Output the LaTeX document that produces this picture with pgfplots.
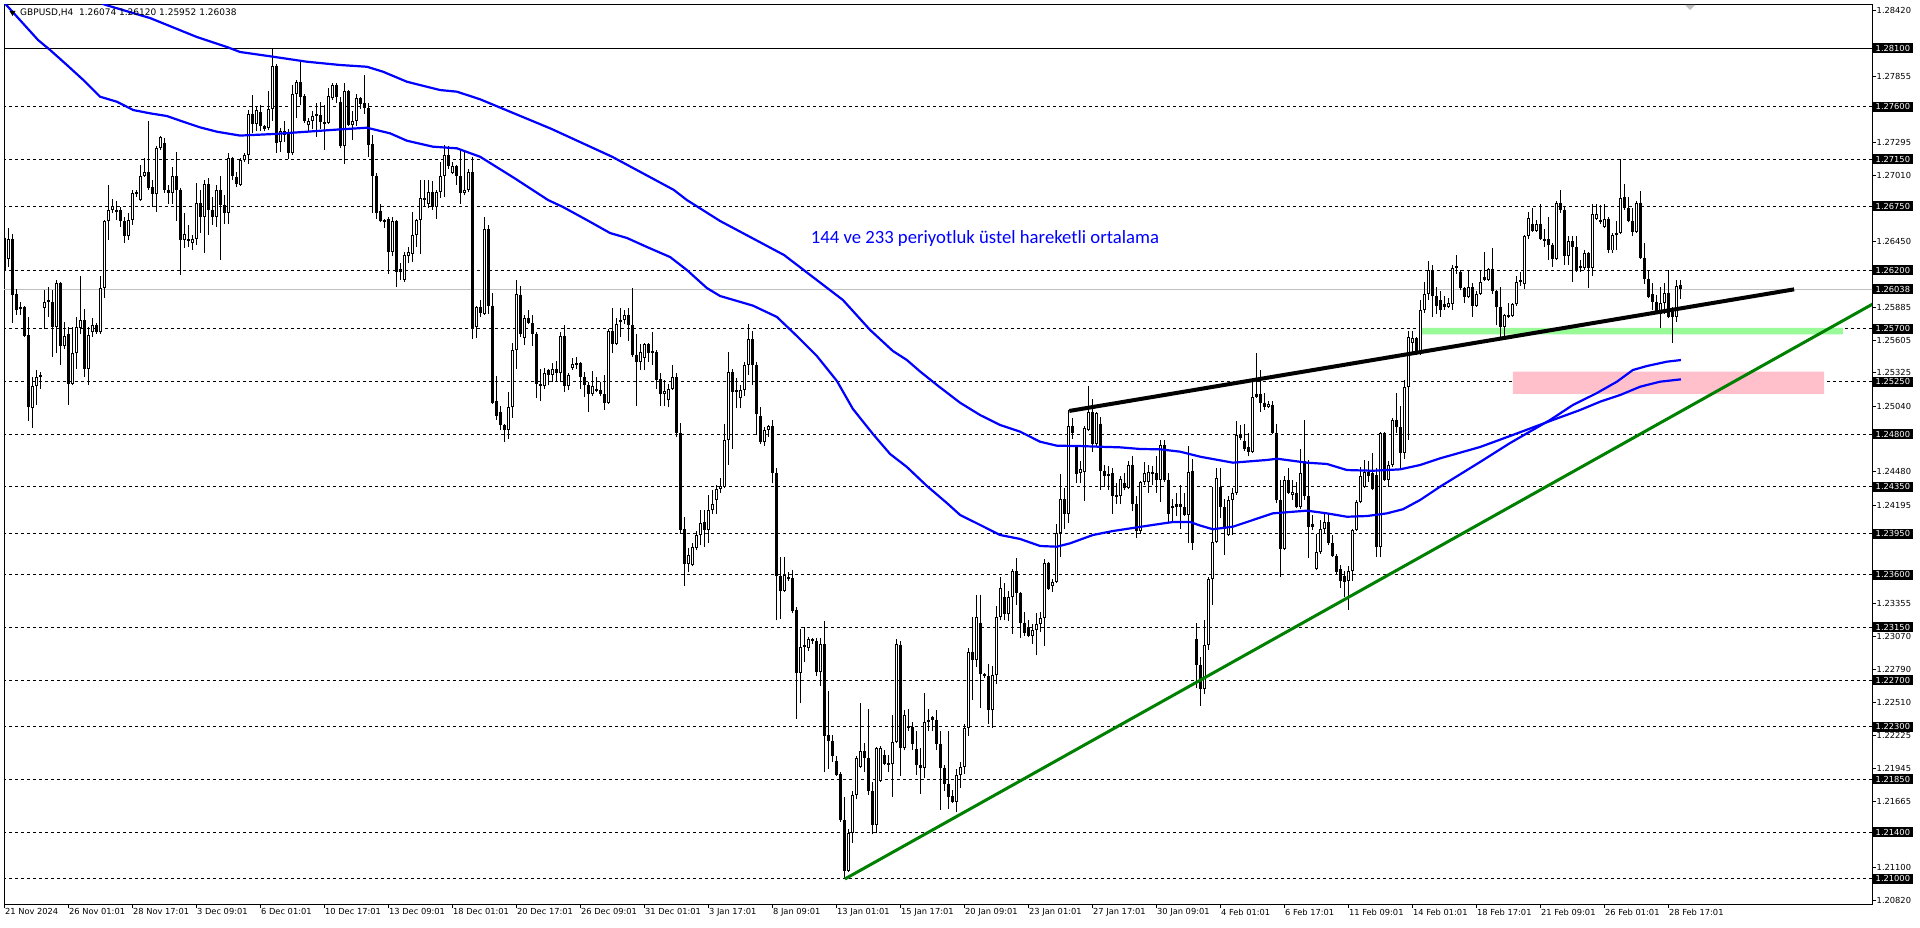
\documentclass[border=0pt]{standalone}
\usepackage{pgfplots}
\pgfplotsset{compat=1.18}
\usepackage{pgfplotstable}
\usepackage{fontspec}
\setmainfont{DejaVu Sans}
\newfontfamily\calibri{Carlito}
\definecolor{mablue}{RGB}{0,0,255}
\definecolor{trgreen}{RGB}{0,128,0}
\definecolor{bandgreen}{RGB}{152,251,152}
\definecolor{zonepink}{RGB}{255,192,203}
\definecolor{curgrey}{RGB}{192,192,192}
\newcommand{\uifont}{\fontsize{8.3}{10}\selectfont}

\pgfplotstableread{
i o h l c
0 2648 2656 2617 2620
1 2630 2656 2623 2647
2 2647 2651 2575 2599
3 2600 2604 2582 2586
4 2589 2593 2582 2587
5 2589 2590 2563 2564
6 2565 2580 2491 2503
7 2502 2529 2485 2521
8 2521 2535 2505 2529
9 2529 2533 2519 2531
10 2588 2603 2570 2593
11 2593 2606 2580 2595
12 2593 2603 2546 2572
13 2572 2612 2549 2609
14 2609 2610 2539 2555
15 2555 2576 2553 2564
16 2566 2572 2505 2523
17 2523 2572 2522 2549
18 2549 2580 2536 2572
19 2571 2615 2566 2578
20 2578 2587 2529 2536
21 2536 2572 2522 2565
22 2567 2579 2563 2573
23 2573 2575 2566 2567
24 2567 2615 2566 2605
25 2605 2663 2596 2662
26 2662 2693 2646 2672
27 2672 2681 2669 2675
28 2672 2679 2663 2670
29 2672 2674 2657 2662
30 2662 2666 2643 2649
31 2649 2669 2646 2663
32 2663 2689 2659 2686
33 2685 2689 2683 2687
34 2680 2710 2679 2701
35 2701 2716 2700 2704
36 2704 2748 2689 2690
37 2691 2697 2674 2685
38 2685 2726 2670 2725
39 2725 2735 2723 2734
40 2729 2733 2686 2689
41 2689 2693 2677 2686
42 2686 2708 2677 2701
43 2701 2721 2662 2689
44 2689 2690 2616 2646
45 2646 2669 2639 2651
46 2645 2659 2640 2647
47 2643 2650 2637 2647
48 2647 2695 2642 2678
49 2678 2689 2652 2666
50 2666 2697 2635 2694
51 2694 2699 2650 2672
52 2672 2683 2659 2666
53 2666 2693 2657 2689
54 2689 2701 2629 2676
55 2676 2684 2660 2669
56 2669 2720 2660 2716
57 2716 2717 2697 2701
58 2700 2704 2691 2694
59 2693 2716 2692 2714
60 2714 2720 2713 2719
61 2719 2757 2711 2754
62 2754 2770 2737 2745
63 2745 2760 2739 2757
64 2755 2761 2739 2743
65 2743 2744 2739 2741
66 2742 2773 2740 2758
67 2758 2809 2748 2795
68 2795 2796 2720 2729
69 2730 2742 2721 2739
70 2736 2748 2730 2739
71 2738 2741 2715 2720
72 2720 2778 2719 2771
73 2771 2783 2750 2781
74 2781 2798 2761 2768
75 2769 2771 2746 2748
76 2744 2750 2739 2748
77 2748 2756 2741 2752
78 2752 2763 2734 2754
79 2753 2764 2741 2747
80 2747 2761 2723 2745
81 2746 2776 2745 2769
82 2767 2780 2766 2778
83 2778 2780 2763 2768
84 2764 2768 2725 2726
85 2726 2780 2711 2773
86 2773 2774 2743 2744
87 2744 2756 2731 2748
88 2748 2771 2743 2767
89 2767 2768 2758 2762
90 2763 2787 2754 2759
91 2759 2763 2717 2727
92 2728 2736 2669 2701
93 2701 2703 2664 2669
94 2671 2677 2661 2662
95 2663 2664 2656 2661
96 2664 2666 2617 2636
97 2636 2666 2632 2662
98 2662 2663 2606 2619
99 2619 2626 2612 2621
100 2612 2636 2610 2633
101 2632 2640 2626 2636
102 2634 2670 2627 2650
103 2650 2664 2640 2663
104 2663 2697 2634 2682
105 2682 2697 2674 2680
106 2677 2697 2673 2687
107 2687 2696 2672 2674
108 2674 2689 2664 2687
109 2687 2713 2682 2701
110 2701 2727 2683 2719
111 2719 2726 2707 2709
112 2703 2713 2702 2709
113 2709 2710 2693 2701
114 2701 2724 2677 2686
115 2686 2723 2684 2689
116 2689 2707 2687 2704
117 2704 2717 2561 2570
118 2572 2590 2562 2589
119 2589 2595 2580 2584
120 2583 2666 2582 2655
121 2655 2659 2583 2590
122 2590 2601 2506 2507
123 2508 2530 2492 2496
124 2499 2504 2484 2488
125 2488 2489 2473 2484
126 2484 2516 2476 2503
127 2503 2558 2494 2552
128 2552 2612 2536 2600
129 2599 2607 2563 2566
130 2562 2582 2556 2579
131 2579 2586 2574 2575
132 2575 2582 2555 2566
133 2566 2567 2511 2523
134 2523 2536 2508 2521
135 2521 2537 2519 2532
136 2535 2536 2522 2531
137 2531 2541 2525 2536
138 2536 2543 2525 2532
139 2532 2567 2525 2564
140 2564 2573 2516 2521
141 2521 2532 2518 2531
142 2537 2545 2535 2540
143 2539 2546 2536 2541
144 2541 2542 2519 2529
145 2529 2533 2512 2522
146 2522 2525 2499 2514
147 2514 2534 2513 2521
148 2519 2529 2516 2517
149 2518 2525 2513 2514
150 2514 2531 2501 2507
151 2507 2570 2506 2568
152 2568 2588 2549 2557
153 2557 2579 2556 2574
154 2578 2588 2563 2576
155 2578 2586 2574 2582
156 2582 2588 2560 2573
157 2573 2605 2546 2548
158 2548 2566 2504 2542
159 2542 2557 2535 2550
160 2545 2558 2535 2557
161 2557 2558 2542 2549
162 2551 2567 2539 2549
163 2550 2552 2519 2526
164 2527 2532 2504 2514
165 2514 2526 2504 2517
166 2509 2523 2503 2519
167 2519 2539 2518 2529
168 2529 2532 2478 2481
169 2481 2490 2395 2398
170 2399 2409 2350 2369
171 2369 2383 2362 2377
172 2368 2387 2367 2384
173 2383 2397 2381 2394
174 2394 2415 2385 2404
175 2405 2415 2384 2398
176 2398 2428 2387 2415
177 2415 2432 2412 2420
178 2424 2437 2412 2433
179 2433 2443 2430 2436
180 2435 2489 2434 2475
181 2475 2550 2454 2533
182 2533 2536 2467 2516
183 2516 2528 2502 2518
184 2511 2522 2502 2518
185 2518 2542 2513 2539
186 2539 2574 2531 2561
187 2561 2568 2522 2539
188 2539 2542 2479 2497
189 2496 2503 2472 2473
190 2473 2486 2470 2484
191 2484 2488 2478 2487
192 2487 2492 2438 2447
193 2447 2451 2321 2359
194 2359 2375 2322 2346
195 2346 2375 2345 2360
196 2356 2362 2355 2358
197 2357 2364 2327 2329
198 2330 2332 2237 2276
199 2276 2314 2250 2298
200 2298 2315 2285 2300
201 2297 2307 2295 2305
202 2305 2306 2301 2303
203 2303 2306 2273 2277
204 2277 2306 2265 2301
205 2301 2320 2191 2222
206 2223 2261 2194 2218
207 2218 2223 2200 2205
208 2201 2205 2188 2189
209 2190 2191 2149 2150
210 2150 2170 2101 2107
211 2107 2143 2106 2139
212 2139 2175 2131 2172
213 2172 2205 2168 2203
214 2196 2250 2195 2209
215 2209 2216 2191 2203
216 2203 2245 2172 2175
217 2175 2183 2138 2146
218 2146 2213 2139 2212
219 2184 2214 2183 2212
220 2206 2210 2197 2198
221 2199 2206 2191 2197
222 2198 2240 2170 2217
223 2217 2305 2216 2301
224 2300 2303 2188 2212
225 2212 2244 2210 2240
226 2229 2245 2226 2231
227 2230 2234 2210 2215
228 2211 2226 2189 2197
229 2197 2212 2173 2195
230 2195 2259 2186 2234
231 2234 2245 2226 2236
232 2236 2239 2226 2238
233 2236 2244 2210 2215
234 2215 2226 2159 2195
235 2195 2197 2175 2181
236 2181 2226 2160 2170
237 2171 2176 2165 2166
238 2166 2194 2157 2189
239 2189 2200 2178 2196
240 2196 2232 2190 2229
241 2229 2297 2222 2294
242 2294 2324 2253 2287
243 2287 2343 2281 2324
244 2319 2343 2246 2275
245 2275 2276 2272 2273
246 2273 2284 2232 2244
247 2244 2282 2229 2274
248 2274 2333 2267 2324
249 2324 2358 2321 2349
250 2341 2353 2321 2326
251 2326 2346 2320 2341
252 2341 2365 2309 2363
253 2363 2374 2334 2344
254 2344 2345 2306 2319
255 2319 2328 2308 2310
256 2315 2321 2307 2308
257 2308 2318 2301 2313
258 2313 2327 2291 2318
259 2318 2328 2311 2323
260 2323 2373 2299 2370
261 2370 2371 2347 2348
262 2350 2356 2345 2354
263 2354 2403 2353 2396
264 2396 2446 2375 2425
265 2425 2434 2399 2412
266 2412 2501 2404 2487
267 2487 2494 2476 2481
268 2469 2471 2438 2446
269 2447 2457 2438 2450
270 2448 2487 2423 2485
271 2484 2521 2483 2499
272 2499 2510 2465 2472
273 2472 2499 2469 2498
274 2489 2495 2432 2449
275 2449 2454 2435 2444
276 2446 2453 2432 2444
277 2447 2451 2412 2427
278 2428 2438 2420 2426
279 2427 2444 2420 2442
280 2438 2447 2432 2434
281 2434 2457 2433 2454
282 2454 2461 2414 2420
283 2420 2427 2391 2397
284 2397 2440 2395 2439
285 2439 2456 2437 2447
286 2439 2454 2430 2448
287 2446 2453 2437 2448
288 2447 2461 2430 2441
289 2441 2475 2422 2471
290 2471 2475 2439 2441
291 2441 2447 2404 2412
292 2417 2425 2405 2419
293 2418 2430 2410 2420
294 2420 2437 2399 2418
295 2418 2430 2410 2411
296 2411 2470 2387 2448
297 2449 2459 2381 2387
298 2305 2319 2263 2283
299 2283 2290 2248 2262
300 2262 2321 2258 2300
301 2300 2358 2296 2356
302 2356 2435 2334 2388
303 2388 2451 2387 2443
304 2435 2451 2408 2418
305 2418 2425 2377 2399
306 2394 2427 2393 2424
307 2424 2434 2394 2430
308 2430 2491 2428 2479
309 2480 2488 2475 2477
310 2474 2489 2466 2467
311 2469 2481 2461 2465
312 2465 2526 2464 2512
313 2512 2549 2511 2514
314 2514 2535 2499 2507
315 2507 2515 2501 2503
316 2503 2508 2502 2506
317 2505 2508 2480 2481
318 2481 2489 2421 2424
319 2424 2441 2358 2382
320 2382 2444 2381 2441
321 2441 2451 2429 2430
322 2428 2441 2424 2431
323 2430 2439 2417 2418
324 2418 2467 2416 2447
325 2457 2492 2424 2427
326 2427 2458 2374 2401
327 2401 2411 2398 2403
328 2365 2395 2364 2379
329 2379 2407 2378 2399
330 2399 2412 2395 2405
331 2405 2412 2385 2387
332 2387 2394 2375 2376
333 2376 2378 2361 2362
334 2365 2368 2349 2355
335 2359 2363 2341 2354
336 2355 2367 2330 2363
337 2363 2399 2355 2398
338 2398 2424 2397 2422
339 2422 2452 2421 2444
340 2435 2458 2434 2448
341 2448 2457 2439 2444
342 2447 2464 2432 2433
343 2445 2451 2375 2384
344 2384 2482 2375 2481
345 2481 2482 2440 2441
346 2441 2457 2435 2454
347 2454 2494 2452 2492
348 2492 2515 2481 2486
349 2486 2504 2451 2464
350 2464 2526 2459 2520
351 2520 2568 2475 2563
352 2558 2568 2549 2562
353 2562 2563 2548 2551
354 2551 2595 2548 2586
355 2586 2610 2584 2600
356 2600 2628 2595 2620
357 2620 2625 2580 2598
358 2598 2606 2583 2590
359 2595 2602 2580 2586
360 2589 2598 2586 2591
361 2589 2596 2588 2592
362 2591 2625 2586 2622
363 2622 2633 2617 2624
364 2619 2620 2603 2605
365 2605 2606 2592 2597
366 2597 2620 2596 2606
367 2606 2609 2580 2590
368 2590 2602 2589 2600
369 2600 2620 2599 2610
370 2612 2636 2611 2614
371 2612 2622 2611 2621
372 2621 2639 2600 2602
373 2602 2603 2573 2589
374 2589 2606 2563 2572
375 2572 2583 2563 2582
376 2580 2592 2579 2582
377 2581 2592 2580 2591
378 2591 2615 2590 2610
379 2610 2619 2607 2612
380 2608 2650 2604 2649
381 2649 2670 2647 2665
382 2660 2673 2653 2654
383 2654 2663 2653 2660
384 2660 2677 2646 2647
385 2647 2655 2640 2645
386 2647 2666 2629 2642
387 2642 2643 2623 2630
388 2630 2679 2629 2678
389 2678 2689 2669 2672
390 2672 2674 2625 2632
391 2632 2649 2625 2645
392 2645 2649 2610 2640
393 2640 2649 2619 2620
394 2624 2629 2619 2622
395 2622 2637 2620 2635
396 2635 2636 2605 2622
397 2622 2677 2615 2668
398 2664 2677 2663 2668
399 2663 2676 2660 2661
400 2657 2677 2656 2664
401 2664 2666 2635 2637
402 2637 2652 2635 2650
403 2650 2662 2637 2652
404 2652 2715 2651 2682
405 2683 2694 2672 2673
406 2673 2683 2661 2662
407 2662 2673 2649 2653
408 2653 2679 2652 2678
409 2678 2688 2630 2631
410 2631 2643 2608 2613
411 2613 2620 2596 2597
412 2600 2609 2586 2593
413 2593 2599 2583 2585
414 2583 2606 2571 2592
415 2592 2609 2583 2601
416 2601 2620 2579 2580
417 2588 2589 2558 2580
418 2580 2612 2576 2607
419 2607.4 2612.0 2595.2 2603.8
}\candles

\begin{document}
\begin{tikzpicture}
\useasboundingbox (0,0) rectangle (1920pt,927pt);
\begin{axis}[
  at={(4pt,23pt)}, anchor=south west,
  scale only axis, width=1868pt, height=899.5pt,
  xmin=-0.23, xmax=466.78, ymin=2078.6, ymax=2847.2,
  clip mode=individual,
  axis line style={black, line width=1pt},
  tick align=outside, major tick length=3.5pt,
  tick style={black, line width=1pt},
  xtick pos=left, ytick pos=right, yticklabel pos=right,
  xtick={0,16,...,416},
  xticklabels={21 Nov 2024, 26 Nov 01:01, 28 Nov 17:01, 3 Dec 09:01, 6 Dec 01:01, 10 Dec 17:01, 13 Dec 09:01, 18 Dec 01:01, 20 Dec 17:01, 26 Dec 09:01, 31 Dec 01:01, 3 Jan 17:01, 8 Jan 09:01, 13 Jan 01:01, 15 Jan 17:01, 20 Jan 09:01, 23 Jan 01:01, 27 Jan 17:01, 30 Jan 09:01, 4 Feb 01:01, 6 Feb 17:01, 11 Feb 09:01, 14 Feb 01:01, 18 Feb 17:01, 21 Feb 09:01, 26 Feb 01:01, 28 Feb 17:01},
  ytick={2842,2814,2785.5,2757.5,2729.5,2701,2673,2645,2617,2588.5,2560.5,2532.5,2504,2476,2448,2419.5,2391.5,2363.5,2335.5,2307,2279,2251,2222.5,2194.5,2166.5,2138.5,2110,2082},
  yticklabels={1.28420,{},1.27855,{},1.27295,1.27010,{},1.26450,{},1.25885,1.25605,1.25325,1.25040,{},1.24480,1.24195,{},{},1.23355,1.23070,1.22790,1.22510,1.22225,1.21945,1.21665,{},1.21100,1.20820},
  xticklabel style={font=\uifont, anchor=north west, inner sep=1pt, xshift=-1pt},
  yticklabel style={font=\uifont, anchor=west, inner sep=1pt},
]
% horizontal levels
\addplot[black, line width=1pt] coordinates {(-5,2810) (480,2810)};
\addplot[curgrey, line width=1pt] coordinates {(-5,2603.8) (480,2603.8)};
\addplot[black, line width=1pt, dash pattern=on 3pt off 3pt] coordinates {(-5,2760) (480,2760)};
\addplot[black, line width=1pt, dash pattern=on 3pt off 3pt] coordinates {(-5,2715) (480,2715)};
\addplot[black, line width=1pt, dash pattern=on 3pt off 3pt] coordinates {(-5,2675) (480,2675)};
\addplot[black, line width=1pt, dash pattern=on 3pt off 3pt] coordinates {(-5,2620) (480,2620)};
\addplot[black, line width=1pt, dash pattern=on 3pt off 3pt] coordinates {(-5,2570) (480,2570)};
\addplot[black, line width=1pt, dash pattern=on 3pt off 3pt] coordinates {(-5,2525) (480,2525)};
\addplot[black, line width=1pt, dash pattern=on 3pt off 3pt] coordinates {(-5,2480) (480,2480)};
\addplot[black, line width=1pt, dash pattern=on 3pt off 3pt] coordinates {(-5,2435) (480,2435)};
\addplot[black, line width=1pt, dash pattern=on 3pt off 3pt] coordinates {(-5,2395) (480,2395)};
\addplot[black, line width=1pt, dash pattern=on 3pt off 3pt] coordinates {(-5,2360) (480,2360)};
\addplot[black, line width=1pt, dash pattern=on 3pt off 3pt] coordinates {(-5,2315) (480,2315)};
\addplot[black, line width=1pt, dash pattern=on 3pt off 3pt] coordinates {(-5,2270) (480,2270)};
\addplot[black, line width=1pt, dash pattern=on 3pt off 3pt] coordinates {(-5,2230) (480,2230)};
\addplot[black, line width=1pt, dash pattern=on 3pt off 3pt] coordinates {(-5,2185) (480,2185)};
\addplot[black, line width=1pt, dash pattern=on 3pt off 3pt] coordinates {(-5,2140) (480,2140)};
\addplot[black, line width=1pt, dash pattern=on 3pt off 3pt] coordinates {(-5,2100) (480,2100)};
% zones
\addplot[fill=zonepink, draw=none] coordinates {(377,2514.4) (454.8,2514.4) (454.8,2533.4) (377,2533.4) (377,2514.4)};
\addplot[fill=bandgreen, draw=none] coordinates {(354,2565.4) (459.5,2565.4) (459.5,2570.8) (354,2570.8) (354,2565.4)};
% candles
\addplot[black, line width=1pt, quiver={u=0, v=\thisrow{h}-\thisrow{l}}] table[x=i, y=l] {\candles};
\addplot[black, line width=3pt, quiver={u=0, v=\thisrow{c}-\thisrow{o}}] table[x=i, y=o] {\candles};
\addplot[white, line width=1pt, quiver={u=0, v=\thisrow{c}-\thisrow{o}-1.7}] table[x=i, y expr={\thisrow{c}-\thisrow{o}>2.5 ? \thisrow{o}+0.85 : nan}] {\candles};
% moving averages
\addplot[mablue, line width=2.2pt] coordinates {(-0.5,2850) (8.3,2816.8) (11.3,2808.3) (15.5,2795.5) (19.6,2782.7) (23.8,2768.4) (28.0,2764.1) (32.1,2757.0) (36.3,2754.2) (40.5,2751.9) (44.6,2747.0) (48.8,2742.2) (53.0,2738.5) (58.8,2735.2) (67.0,2736.5) (75.5,2738.5) (83.8,2740.5) (90.5,2741.9) (96.3,2737.1) (100.5,2730.8) (107.0,2725.7) (113.0,2724.3) (118.8,2717.1) (127.3,2699) (135.8,2680.1) (139.5,2674.2) (145.5,2663.0) (151.3,2651.9) (155.5,2647.7) (160.5,2640.0) (166.3,2631.4) (170.5,2620.3) (175.5,2604.9) (178.8,2598.1) (187.0,2589.9) (193.0,2580.2) (198.0,2563.9) (203.0,2546.8) (208.0,2525.5) (212.0,2501.6) (217.0,2480.2) (221.3,2463.1) (225.5,2452.0) (230.5,2435.8) (235.5,2421.2) (238.8,2411.0) (243.8,2402.5) (248.8,2393.9) (253.8,2390.5) (258.8,2384.5) (263.0,2383.9) (266.3,2386.8) (272.0,2393.9) (277.0,2397.3) (282.0,2399.9) (287.0,2402.5) (292.0,2405.0) (296.3,2405.0) (298.8,2402.0) (302.0,2398.8) (307.0,2401.0) (312.0,2406.7) (317.0,2412.4) (325.5,2414.7) (330.5,2412.4) (335.5,2409.5) (340.5,2410.1) (345.5,2412.4) (349.5,2415.9) (353.8,2423.8) (358.8,2435.2) (368.8,2456.3) (376.3,2472.5) (386.3,2492.2) (392.0,2505.0) (398.0,2515.2) (403.0,2524.9) (407.0,2534.9) (410.5,2538.3) (415.5,2542.0) (419,2543.4)};
\addplot[mablue, line width=2.2pt] coordinates {(22.5,2851) (25.0,2847.0) (36.3,2835.6) (48.0,2819.4) (55.5,2810.9) (58.8,2806.6) (67.0,2802.6) (75.5,2798.3) (83.8,2795.5) (90.5,2794.0) (94.5,2789.8) (100.5,2781.2) (108.8,2774.1) (113.0,2772.7) (118.8,2766.2) (136.5,2741.1) (151.8,2717.1) (167.2,2688.8) (170.5,2680.1) (178.8,2662.2) (194.8,2633.1) (209.5,2594.7) (216.3,2569.1) (222.0,2551.1) (225.5,2543.4) (228.8,2533.6) (233.0,2522.1) (238.8,2506.9) (243.8,2496.4) (248.8,2487.9) (253.8,2482.2) (258.8,2473.6) (263.0,2470.2) (268.8,2469.9) (273.8,2469.3) (278.8,2468.8) (283.8,2467.4) (288.8,2467.1) (293.8,2465.1) (298.8,2460.8) (307.0,2455.7) (315.5,2458.0) (318.0,2459.1) (325.5,2455.7) (330.5,2454.6) (335.5,2449.4) (342.0,2448.8) (348.8,2450.0) (353.8,2453.7) (358.8,2459.4) (368.8,2469.1) (376.3,2478.5) (387.0,2492.2) (393.8,2500.7) (398.8,2507.8) (403.8,2513.5) (408.8,2520.6) (413.8,2524.9) (419,2526.9)};
% trend lines
\addplot[black, line width=4pt] coordinates {(266.1,2499.9) (447.3,2603.8)};
\addplot[trgreen, line width=3pt] coordinates {(210,2100) (470,2597.1)};
% annotation
\node[text=mablue, font=\calibri\fontsize{18.7}{22}\selectfont] at (axis cs:245,2647) {144 ve 233 periyotluk üstel hareketli ortalama};
% anchors for right-side price boxes
\coordinate (L1) at (axis cs:466.78,2810);
\coordinate (L2) at (axis cs:466.78,2760);
\coordinate (L3) at (axis cs:466.78,2715);
\coordinate (L4) at (axis cs:466.78,2675);
\coordinate (L5) at (axis cs:466.78,2620);
\coordinate (L6) at (axis cs:466.78,2603.8);
\coordinate (L7) at (axis cs:466.78,2570);
\coordinate (L8) at (axis cs:466.78,2525);
\coordinate (L9) at (axis cs:466.78,2480);
\coordinate (L10) at (axis cs:466.78,2435);
\coordinate (L11) at (axis cs:466.78,2395);
\coordinate (L12) at (axis cs:466.78,2360);
\coordinate (L13) at (axis cs:466.78,2315);
\coordinate (L14) at (axis cs:466.78,2270);
\coordinate (L15) at (axis cs:466.78,2230);
\coordinate (L16) at (axis cs:466.78,2185);
\coordinate (L17) at (axis cs:466.78,2140);
\coordinate (L18) at (axis cs:466.78,2100);
\end{axis}
\tikzset{pbox/.style={fill=black, text=white, anchor=west, font=\uifont, inner xsep=2.5pt, inner ysep=0pt, minimum height=10pt, xshift=1pt}}
\node[pbox] at (L1) {1.28100};
\node[pbox] at (L2) {1.27600};
\node[pbox] at (L3) {1.27150};
\node[pbox] at (L4) {1.26750};
\node[pbox] at (L5) {1.26200};
\node[pbox] at (L6) {1.26038};
\node[pbox] at (L7) {1.25700};
\node[pbox] at (L8) {1.25250};
\node[pbox] at (L9) {1.24800};
\node[pbox] at (L10) {1.24350};
\node[pbox] at (L11) {1.23950};
\node[pbox] at (L12) {1.23600};
\node[pbox] at (L13) {1.23150};
\node[pbox] at (L14) {1.22700};
\node[pbox] at (L15) {1.22300};
\node[pbox] at (L16) {1.21850};
\node[pbox] at (L17) {1.21400};
\node[pbox] at (L18) {1.21000};
% header
\fill[black] (9.5pt,916pt) -- (15.5pt,916pt) -- (12.5pt,911pt) -- cycle;
\node[anchor=west, font=\fontsize{9}{11}\selectfont, inner sep=0pt] at (20pt,914pt) {GBPUSD,H4\ \ 1.26074 1.26120 1.25952 1.26038};
\fill[curgrey] (1685pt,922pt) -- (1695pt,922pt) -- (1690pt,917pt) -- cycle;
\end{tikzpicture}
\end{document}
